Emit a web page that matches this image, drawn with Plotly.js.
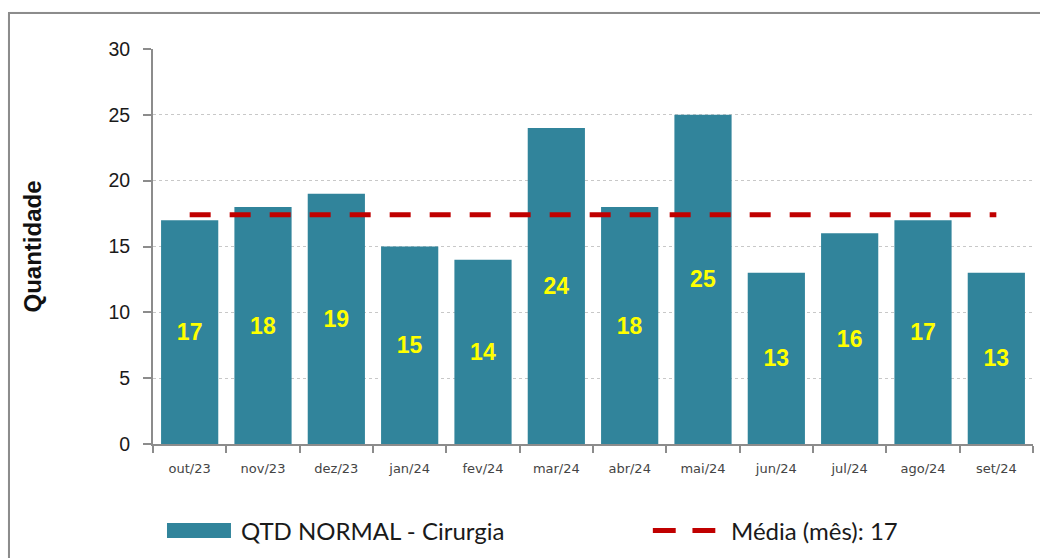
<!DOCTYPE html>
<html>
<head>
<meta charset="utf-8">
<script src="https://cdn.plot.ly/plotly-3.0.1.min.js"></script>
<style>
  html, body { margin: 0; padding: 0; background: #fff; overflow: hidden; }
  #wrap { position: relative; width: 1040px; height: 558px; }
  #chart { position: absolute; left: 0; top: 0; width: 1040px; height: 558px; }
  #frame { position: absolute; left: 8px; top: 12px; width: 1100px; height: 600px;
           border: 2px solid #8c8c8c; box-shadow: 1px 1px 2px rgba(0,0,0,0.25); pointer-events: none; }
</style>
</head>
<body>
<div id="wrap">
  <div id="chart"></div>
  <div id="frame"></div>
</div>
<script>
const categories = ['out/23','nov/23','dez/23','jan/24','fev/24','mar/24','abr/24','mai/24','jun/24','jul/24','ago/24','set/24'];
const values = [17, 18, 19, 15, 14, 24, 18, 25, 13, 16, 17, 13];
const meanValue = 17.42;
const meanSeries = categories.map(() => meanValue);
const barName = 'QTD NORMAL - Cirurgia';
const meanName = 'Média (mês): 17';
const yTicks = [0, 5, 10, 15, 20, 25, 30];

const barColor = '#31849B';
const meanColor = '#C00000';

const traces = [
  {
    type: 'bar',
    x: categories,
    y: values,
    name: barName,
    marker: { color: barColor },
    text: values.map(String),
    textposition: 'inside',
    insidetextanchor: 'middle',
    constraintext: 'none',
    textangle: 0,
    textfont: { family: 'Liberation Sans', size: 23, color: '#FFFF00', weight: 'bold' },
    hoverinfo: 'x+y',
    showlegend: false
  },
  {
    type: 'scatter',
    mode: 'lines',
    x: categories,
    y: meanSeries,
    name: meanName,
    line: { color: meanColor, width: 5, dash: '21px,19px' },
    showlegend: false
  }
];

const layout = {
  width: 1040,
  height: 558,
  margin: { l: 153, r: 7, t: 49, b: 114 },
  paper_bgcolor: '#ffffff',
  plot_bgcolor: '#ffffff',
  bargap: 0.22,
  showlegend: false,
  font: { family: 'DejaVu Sans', color: '#222' },
  xaxis: {
    type: 'category',
    showline: true,
    linecolor: '#8c8c8c',
    linewidth: 2,
    ticks: 'outside',
    tickson: 'boundaries',
    ticklen: 7,
    tickcolor: '#8c8c8c',
    tickwidth: 2,
    ticklabelstandoff: 11,
    tickfont: { family: 'DejaVu Sans', size: 13, color: '#444' },
    showgrid: false,
    zeroline: false,
    fixedrange: true
  },
  yaxis: {
    range: [0, 30],
    tickvals: yTicks,
    ticktext: yTicks.map(String),
    showline: true,
    linecolor: '#8c8c8c',
    linewidth: 2,
    ticks: 'outside',
    ticklen: 8,
    tickcolor: '#8c8c8c',
    tickwidth: 2,
    tickfont: { family: 'Liberation Sans', size: 19.5, color: '#1a1a1a' },
    showgrid: true,
    gridcolor: '#c8c8c8',
    gridwidth: 1,
    griddash: 'dot',
    zeroline: false,
    ticklabelstandoff: 9,
    title: { text: 'Quantidade', font: { family: 'Liberation Sans', size: 24, color: '#111', weight: 'bold' }, standoff: 60 },
    fixedrange: true
  },
  shapes: [
    { type: 'rect', xref: 'paper', yref: 'paper', x0: 0.0159, x1: 0.0886, y0: -0.238, y1: -0.200,
      fillcolor: barColor, line: { width: 0 } },
    { type: 'line', xref: 'paper', yref: 'paper', x0: 0.568, x1: 0.594, y0: -0.219, y1: -0.219,
      line: { color: meanColor, width: 5 } },
    { type: 'line', xref: 'paper', yref: 'paper', x0: 0.613, x1: 0.639, y0: -0.219, y1: -0.219,
      line: { color: meanColor, width: 5 } }
  ],
  annotations: [
    { xref: 'paper', yref: 'paper', x: 0.0977, y: -0.219, xanchor: 'left', yanchor: 'middle',
      text: barName, showarrow: false, font: { family: 'Lato', size: 24, color: '#1a1a1a' } },
    { xref: 'paper', yref: 'paper', x: 0.654, y: -0.219, xanchor: 'left', yanchor: 'middle',
      text: meanName, showarrow: false, font: { family: 'Lato', size: 24, color: '#1a1a1a' } }
  ]
};

Plotly.newPlot('chart', traces, layout, { displayModeBar: false, staticPlot: true });
</script>
</body>
</html>
